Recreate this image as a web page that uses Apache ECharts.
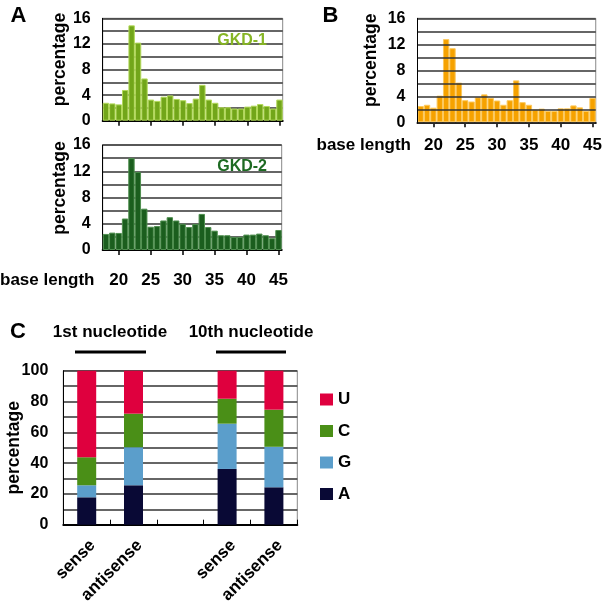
<!DOCTYPE html>
<html><head><meta charset="utf-8">
<script src="https://cdn.jsdelivr.net/npm/echarts@6.0.0/dist/echarts.min.js"></script>
<style>html,body{margin:0;padding:0;background:#fff}#c{width:605px;height:609px;position:absolute;left:0;top:0;transform:scale(1);transform-origin:0 0}</style>
</head><body><div id="c"></div>
<script>
// ---- data ----
const baseLengths = ['18','19','20','21','22','23','24','25','26','27','28','29','30','31','32','33','34','35','36','37','38','39','40','41','42','43','44','45'];
const gkd1 = [2.8,2.7,2.55,4.8,14.9,12.2,6.6,3.3,3.1,3.75,3.95,3.4,3.2,2.75,3.45,5.6,3.3,2.8,2.1,2.1,1.9,1.9,2.2,2.35,2.6,2.3,1.9,3.3];
const gkd2 = [2.45,2.65,2.6,4.8,14.0,11.9,6.3,3.55,3.65,4.5,5.0,4.5,4.0,3.5,3.95,5.5,3.5,2.95,2.25,2.25,2.0,2.0,2.35,2.35,2.5,2.25,1.8,3.05];
const panelB = [2.5,2.7,2.25,4.1,12.8,11.4,6.1,3.4,3.2,3.85,4.3,3.75,3.35,2.7,3.4,6.45,3.1,2.7,1.95,2.1,1.75,1.75,2.15,2.15,2.6,2.3,1.75,3.75];
const cCategories = ['sense','antisense',' ','sense','antisense'];
const nucA = [17.8,25.6,null,36.2,24.3];
const nucG = [7.8,24.7,null,29.4,26.3];
const nucC = [18.2,21.8,null,16.2,24.1];
const nucU = [56.2,27.9,null,18.2,25.3];
const legendOrder = ['U','C','G','A'];

const FONT = '"Liberation Sans", Arial, Helvetica, sans-serif';
const chart = echarts.init(document.getElementById('c'));

const showEvery5 = (i, v) => Number(v) % 5 === 0;

function lenX(gi, showLabels, margin) {
  return {
    type:'category', gridIndex:gi, data:baseLengths, boundaryGap:true,
    axisLine:{show:true, lineStyle:{color:'#000', width:2}},
    axisTick:{show:true, alignWithLabel:true, interval:showEvery5, length:5, lineStyle:{color:'#000', width:1.5}},
    axisLabel:{show:showLabels, interval:showEvery5, margin:margin, fontFamily:FONT, fontWeight:'bold', fontSize:17, color:'#000'},
    splitLine:{show:false}
  };
}
function pctY(gi, z, gap, shiftPad) {
  return {
    type:'value', gridIndex:gi, min:0, max:16, interval:2, z:z,
    name:'percentage', nameLocation:'middle', nameRotate:90, nameGap:gap, nameMoveOverlap:false,
    nameTextStyle:{fontFamily:FONT, fontWeight:'bold', fontSize:17.5, color:'#000', padding:[0,0,0,shiftPad]},
    axisLine:{show:true, lineStyle:{color:'#000', width:1}},
    axisTick:{show:false},
    splitLine:{show:true, lineStyle:{color:'#333', width:1.5}},
    axisLabel:{formatter:v => (v % 4 === 0 ? String(v) : ''), margin:12, padding:[6,0,0,0], fontFamily:FONT, fontWeight:'bold', fontSize:16, color:'#000'}
  };
}
function lenBar(gi, data, color, border) {
  return {type:'bar', xAxisIndex:gi, yAxisIndex:gi, data:data, barCategoryGap:'0%',
    itemStyle:{color:color, borderColor:border, borderWidth:1}};
}
function nucBar(name, data, color) {
  return {type:'bar', name:name, stack:'nuc', xAxisIndex:3, yAxisIndex:3, data:data, barWidth:19,
    itemStyle:{color:color}};
}
const ttl = (text, x, y, align, size, color) => ({
  text:text, left:x, top:y, padding:0, textAlign:align, textVerticalAlign:'middle',
  textStyle:{fontFamily:FONT, fontWeight:'bold', fontSize:size, color:color || '#000'}
});

const option = {
  animation:false,
  title:[
    ttl('A', 18.5, 16, 'center', 22),
    ttl('B', 330.5, 15.5, 'center', 22),
    ttl('C', 18, 331.5, 'center', 22),
    ttl('base length', 0, 280.5, 'left', 17),
    ttl('base length', 316.5, 145, 'left', 17),
    ttl('GKD-1', 267, 41, 'right', 16, '#86b524'),
    ttl('GKD-2', 267, 166.5, 'right', 16, '#1d6a22'),
    ttl('1st nucleotide', 110, 332.5, 'center', 17),
    ttl('10th nucleotide', 251, 332.5, 'center', 17)
  ],
  grid:[
    {left:102.7, top:18.3, width:180, height:102.4, show:true, borderColor:'#888', borderWidth:1},
    {left:102.7, top:145, width:179, height:105, show:true, borderColor:'#888', borderWidth:1},
    {left:417.5, top:18.3, width:178.8, height:104, show:true, borderColor:'#888', borderWidth:1},
    {left:63.3, top:370.7, width:234, height:154, show:true, borderColor:'#888', borderWidth:1}
  ],
  xAxis:[
    lenX(0, false, 10),
    lenX(1, true, 22),
    lenX(2, true, 15),
    {type:'category', gridIndex:3, data:cCategories, boundaryGap:true,
      axisLine:{show:true, lineStyle:{color:'#000', width:2}},
      axisTick:{show:true, inside:true, alignWithLabel:false, length:5, lineStyle:{color:'#000', width:1}},
      axisLabel:{interval:0, rotate:45, margin:12, verticalAlign:'top', fontFamily:FONT, fontWeight:'bold', fontSize:17, color:'#000'},
      splitLine:{show:false}}
  ],
  yAxis:[
    pctY(0, 0, 34, 20), pctY(1, 0, 34, 19), pctY(2, 3, 37, 20),
    {type:'value', gridIndex:3, min:0, max:100, interval:10,
      name:'percentage', nameLocation:'middle', nameRotate:90, nameGap:40.5, nameMoveOverlap:false,
      nameTextStyle:{fontFamily:FONT, fontWeight:'bold', fontSize:17.5, color:'#000'},
      axisLine:{show:true, lineStyle:{color:'#000', width:1}},
      axisTick:{show:false},
      splitLine:{show:true, lineStyle:{color:'#333', width:1.5}},
      axisLabel:{formatter:v => (v % 20 === 0 ? String(v) : ''), margin:15, padding:[10,0,0,0], fontFamily:FONT, fontWeight:'bold', fontSize:16, color:'#000'}}
  ],
  legend:{
    data:legendOrder, orient:'vertical', left:315, top:386, itemWidth:13, itemHeight:12, itemGap:14.5,
    icon:'rect', selectedMode:false,
    textStyle:{fontFamily:FONT, fontWeight:'bold', fontSize:17, color:'#000'}
  },
  series:[
    lenBar(0, gkd1, '#72a61a', '#b3d95a'),
    lenBar(1, gkd2, '#1b5e1e', '#4f8f4f'),
    lenBar(2, panelB, '#f6a200', '#fcc95e'),
    nucBar('A', nucA, '#090935'),
    nucBar('G', nucG, '#5b9ecb'),
    nucBar('C', nucC, '#4a8f17'),
    nucBar('U', nucU, '#df003e')
  ],
  graphic:[
    {type:'line', shape:{x1:75, y1:352, x2:146, y2:352}, style:{stroke:'#000', lineWidth:3}},
    {type:'line', shape:{x1:216, y1:352, x2:286, y2:352}, style:{stroke:'#000', lineWidth:3}}
  ]
};
chart.setOption(option);
</script>
</body></html>
